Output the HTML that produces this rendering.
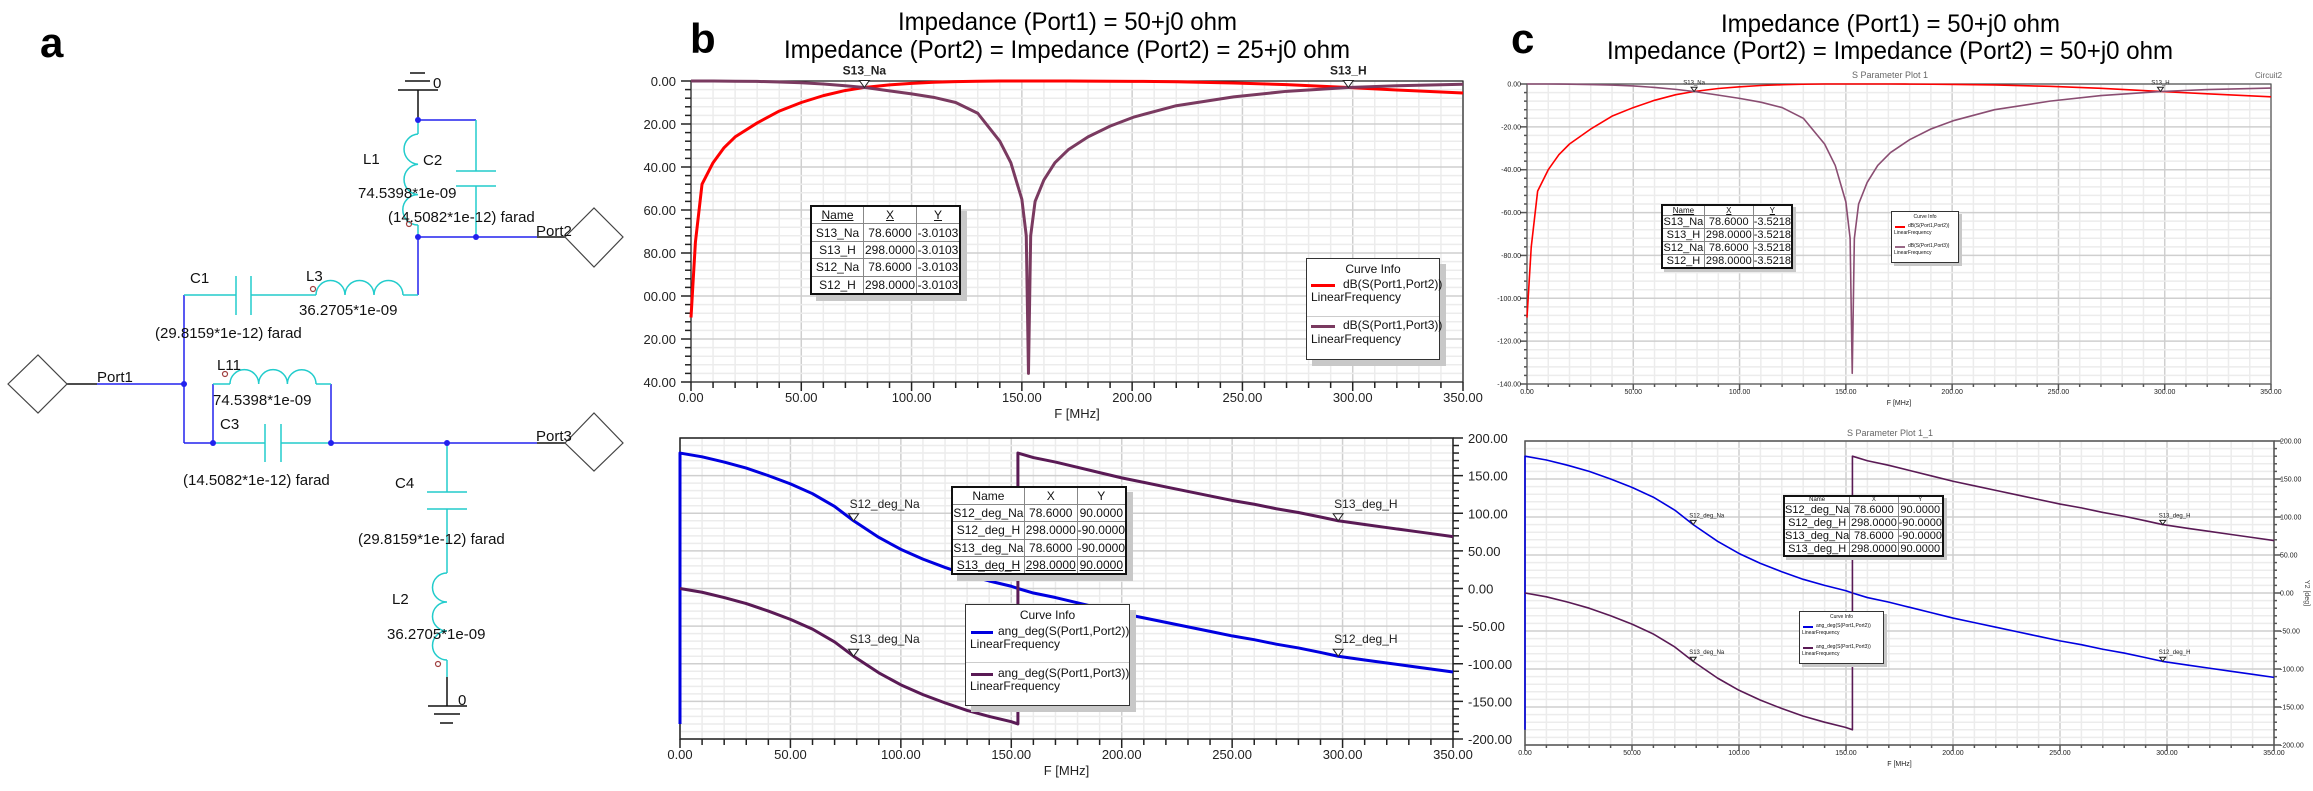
<!DOCTYPE html>
<html><head><meta charset="utf-8"><title>S-parameter figure</title>
<style>
html,body{margin:0;padding:0;background:#fff;}
#wrap{position:relative;width:2313px;height:791px;overflow:hidden;background:#fff;font-family:"Liberation Sans",Arial,sans-serif;}
svg text{font-family:"Liberation Sans",Arial,sans-serif;}
.tbl{position:absolute;background:#fff;border:2px solid #111;box-shadow:6px 6px 0 #c8c8c8;border-collapse:collapse;font-family:"Liberation Sans",Arial,sans-serif;color:#111;}
.tbl td{border:1px solid #888;text-align:center;padding:0;white-space:nowrap;}
.ci{position:absolute;background:#fff;border:1.5px solid #333;box-shadow:6px 6px 0 #c8c8c8;font-family:"Liberation Sans",Arial,sans-serif;color:#111;}
</style></head><body>
<div id="wrap">
<svg id="main" width="2313" height="791" viewBox="0 0 2313 791" xmlns="http://www.w3.org/2000/svg">
<defs><clipPath id="bclip"><rect x="643" y="0" width="900" height="791"/></clipPath></defs>
<!-- panel letters -->
<text x="40" y="57" font-size="42" font-weight="bold">a</text>
<text x="690" y="53" font-size="42" font-weight="bold">b</text>
<text x="1511" y="53" font-size="42" font-weight="bold">c</text>
<!-- titles -->
<text x="898" y="30" font-size="25" textLength="339" lengthAdjust="spacingAndGlyphs">Impedance (Port1) = 50+j0 ohm</text>
<text x="784" y="58" font-size="25" textLength="566" lengthAdjust="spacingAndGlyphs">Impedance (Port2) = Impedance (Port2) = 25+j0 ohm</text>
<text x="1721" y="32" font-size="25" textLength="339" lengthAdjust="spacingAndGlyphs">Impedance (Port1) = 50+j0 ohm</text>
<text x="1607" y="59" font-size="25" textLength="566" lengthAdjust="spacingAndGlyphs">Impedance (Port2) = Impedance (Port2) = 50+j0 ohm</text>
<text x="1890" y="78" font-size="9" fill="#666" text-anchor="middle">S Parameter Plot 1</text>
<text x="2255" y="78" font-size="8" fill="#666">Circuit2</text>
<text x="1890" y="436" font-size="9" fill="#666" text-anchor="middle">S Parameter Plot 1_1</text>

<!-- circuit schematic -->
<g id="circuit" fill="none" stroke-width="1.5">
  <!-- top ground -->
  <g stroke="#111">
    <line x1="418" y1="90" x2="418" y2="120"/>
    <line x1="398" y1="90" x2="438" y2="90"/>
    <line x1="405" y1="81" x2="430" y2="81"/>
    <line x1="410" y1="73" x2="425" y2="73"/>
  </g>
  <g stroke="#2222ee">
    <line x1="418" y1="120" x2="476" y2="120"/>
    <line x1="418" y1="237" x2="537" y2="237"/>
    <line x1="418" y1="237" x2="418" y2="295"/>
    <line x1="184" y1="295" x2="184" y2="443"/>
    <line x1="97" y1="384" x2="184" y2="384"/>
    <line x1="213" y1="384" x2="213" y2="443"/>
    <line x1="331" y1="384" x2="331" y2="443"/>
    <line x1="184" y1="443" x2="213" y2="443"/>
    <line x1="331" y1="443" x2="537" y2="443"/>
  </g>
  <g stroke="#22cccc">
    <line x1="476" y1="120" x2="476" y2="171"/>
    <line x1="456" y1="171" x2="496" y2="171"/>
    <line x1="456" y1="186" x2="496" y2="186"/>
    <line x1="476" y1="186" x2="476" y2="237"/>
    <line x1="418" y1="120" x2="418" y2="134"/>
    <path d="M418 134 a15.2 15.2 0 0 0 0 30.3 a15.2 15.2 0 0 0 0 30.3 a15.2 15.2 0 0 0 0 30.4"/>
    <line x1="418" y1="225" x2="418" y2="237"/>
    <line x1="184" y1="295" x2="236" y2="295"/>
    <line x1="236" y1="276" x2="236" y2="315"/>
    <line x1="251" y1="276" x2="251" y2="315"/>
    <line x1="251" y1="295" x2="316" y2="295"/>
    <path d="M316 295 a14.5 14.5 0 0 1 29 0 a14.5 14.5 0 0 1 29 0 a14.5 14.5 0 0 1 29 0"/>
    <line x1="403" y1="295" x2="418" y2="295"/>
    <line x1="213" y1="384" x2="230" y2="384"/>
    <path d="M230 384 a14.3 14.3 0 0 1 28.7 0 a14.3 14.3 0 0 1 28.7 0 a14.3 14.3 0 0 1 28.6 0"/>
    <line x1="316" y1="384" x2="331" y2="384"/>
    <line x1="213" y1="443" x2="265" y2="443"/>
    <line x1="265" y1="424" x2="265" y2="462"/>
    <line x1="281" y1="424" x2="281" y2="462"/>
    <line x1="281" y1="443" x2="331" y2="443"/>
    <line x1="447" y1="443" x2="447" y2="492"/>
    <line x1="427" y1="492" x2="467" y2="492"/>
    <line x1="427" y1="509" x2="467" y2="509"/>
    <line x1="447" y1="509" x2="447" y2="573"/>
    <path d="M447 573 a14.5 14.5 0 0 0 0 29 a14.5 14.5 0 0 0 0 29 a14.5 14.5 0 0 0 0 29"/>
    <line x1="447" y1="660" x2="447" y2="677"/>
  </g>
  <g stroke="#111">
    <line x1="67" y1="384" x2="97" y2="384"/>
    <line x1="537" y1="237" x2="565" y2="237"/>
    <line x1="537" y1="443" x2="565" y2="443"/>
    <line x1="447" y1="677" x2="447" y2="706"/>
    <line x1="428" y1="706" x2="467" y2="706"/>
    <line x1="434" y1="714" x2="460" y2="714"/>
    <line x1="440" y1="723" x2="453" y2="723"/>
  </g>
  <g stroke="#444" stroke-width="1.2">
    <polygon points="8,384 38,355 67,384 38,413"/>
    <polygon points="565,237 594,208 623,237 594,267"/>
    <polygon points="565,443 594,413 623,443 594,471"/>
  </g>
  <g fill="#2222ee" stroke="none">
    <circle cx="418" cy="120" r="3"/><circle cx="418" cy="237" r="3"/><circle cx="476" cy="237" r="3"/>
    <circle cx="184" cy="384" r="3"/><circle cx="213" cy="443" r="3"/><circle cx="331" cy="443" r="3"/><circle cx="447" cy="443" r="3"/>
  </g>
  <g stroke="#a04040" stroke-width="1.2">
    <circle cx="409" cy="224" r="2.5"/><circle cx="313" cy="289" r="2.5"/><circle cx="225" cy="374" r="2.5"/><circle cx="438" cy="664" r="2.5"/>
  </g>
  <g fill="#111" stroke="none" font-size="15">
    <text x="433" y="88">0</text>
    <text x="458" y="705">0</text>
    <text x="363" y="164">L1</text>
    <text x="423" y="165">C2</text>
    <text x="358" y="198">74.5398*1e-09</text>
    <text x="388" y="222">(14.5082*1e-12) farad</text>
    <text x="536" y="236">Port2</text>
    <text x="190" y="283">C1</text>
    <text x="306" y="281">L3</text>
    <text x="299" y="315">36.2705*1e-09</text>
    <text x="155" y="338">(29.8159*1e-12) farad</text>
    <text x="97" y="382">Port1</text>
    <text x="217" y="370">L11</text>
    <text x="213" y="405">74.5398*1e-09</text>
    <text x="220" y="429">C3</text>
    <text x="183" y="485">(14.5082*1e-12) farad</text>
    <text x="536" y="441">Port3</text>
    <text x="395" y="488">C4</text>
    <text x="358" y="544">(29.8159*1e-12) farad</text>
    <text x="392" y="604">L2</text>
    <text x="387" y="639">36.2705*1e-09</text>
  </g>
</g>
<g id="charts"></g>
</svg>

<!-- b top marker table -->
<table class="tbl" style="left:810px;top:205px;width:151px;height:90px;font-size:12px;">
<tr><td style="width:51px"><u>Name</u></td><td style="width:52px"><u>X</u></td><td><u>Y</u></td></tr>
<tr><td>S13_Na</td><td>78.6000</td><td>-3.0103</td></tr>
<tr><td>S13_H</td><td>298.0000</td><td>-3.0103</td></tr>
<tr><td>S12_Na</td><td>78.6000</td><td>-3.0103</td></tr>
<tr><td>S12_H</td><td>298.0000</td><td>-3.0103</td></tr>
</table>
<div class="ci" style="left:1306px;top:258px;width:132px;height:100px;font-size:12px;">
 <div style="text-align:center;margin-top:3px;">Curve Info</div>
 <div style="position:absolute;left:4px;top:25px;width:24px;height:3px;background:#f00"></div>
 <div style="position:absolute;left:36px;top:18px;">dB(S(Port1,Port2))</div>
 <div style="position:absolute;left:4px;top:31px;">LinearFrequency</div>
 <div style="position:absolute;left:0;top:57px;width:132px;height:1px;background:#ccc"></div>
 <div style="position:absolute;left:4px;top:66px;width:24px;height:3px;background:#7a3a60"></div>
 <div style="position:absolute;left:36px;top:59px;">dB(S(Port1,Port3))</div>
 <div style="position:absolute;left:4px;top:73px;">LinearFrequency</div>
</div>

<!-- b bottom marker table -->
<table class="tbl" style="left:951px;top:486px;width:176px;height:89px;font-size:12px;">
<tr><td style="width:71px">Name</td><td style="width:52px">X</td><td>Y</td></tr>
<tr><td>S12_deg_Na</td><td>78.6000</td><td>90.0000</td></tr>
<tr><td>S12_deg_H</td><td>298.0000</td><td>-90.0000</td></tr>
<tr><td>S13_deg_Na</td><td>78.6000</td><td>-90.0000</td></tr>
<tr><td><u>S13_deg_H</u></td><td><u>298.0000</u></td><td><u>90.0000</u></td></tr>
</table>
<div class="ci" style="left:965px;top:604px;width:163px;height:100px;font-size:12px;">
 <div style="text-align:center;margin-top:3px;">Curve Info</div>
 <div style="position:absolute;left:5px;top:26px;width:22px;height:3px;background:#0000e0"></div>
 <div style="position:absolute;left:32px;top:19px;">ang_deg(S(Port1,Port2))</div>
 <div style="position:absolute;left:4px;top:32px;">LinearFrequency</div>
 <div style="position:absolute;left:0;top:57px;width:163px;height:1px;background:#ccc"></div>
 <div style="position:absolute;left:5px;top:68px;width:22px;height:3px;background:#5a1a55"></div>
 <div style="position:absolute;left:32px;top:61px;">ang_deg(S(Port1,Port3))</div>
 <div style="position:absolute;left:4px;top:74px;">LinearFrequency</div>
</div>

<!-- c top marker table -->
<table class="tbl" style="left:1661px;top:204px;width:132px;height:63px;font-size:11px;box-shadow:3px 3px 0 #c8c8c8;">
<tr style="font-size:8px"><td style="width:41px"><u>Name</u></td><td style="width:48px"><u>X</u></td><td><u>Y</u></td></tr>
<tr><td>S13_Na</td><td>78.6000</td><td>-3.5218</td></tr>
<tr><td>S13_H</td><td>298.0000</td><td>-3.5218</td></tr>
<tr><td>S12_Na</td><td>78.6000</td><td>-3.5218</td></tr>
<tr><td>S12_H</td><td>298.0000</td><td>-3.5218</td></tr>
</table>
<div class="ci" style="left:1891px;top:211px;width:66px;height:50px;font-size:5px;box-shadow:3px 3px 0 #c8c8c8;">
 <div style="text-align:center;margin-top:2px;">Curve Info</div>
 <div style="position:absolute;left:3px;top:14px;width:10px;height:2px;background:#f00"></div>
 <div style="position:absolute;left:16px;top:11px;">dB(S(Port1,Port2))</div>
 <div style="position:absolute;left:2px;top:18px;">LinearFrequency</div>
 <div style="position:absolute;left:3px;top:34px;width:10px;height:2px;background:#9a6a88"></div>
 <div style="position:absolute;left:16px;top:31px;">dB(S(Port1,Port3))</div>
 <div style="position:absolute;left:2px;top:38px;">LinearFrequency</div>
</div>

<!-- c bottom marker table -->
<table class="tbl" style="left:1783px;top:495px;width:161px;height:62px;font-size:11px;box-shadow:3px 3px 0 #c8c8c8;">
<tr style="font-size:6px"><td style="width:63px">Name</td><td style="width:48px">X</td><td>Y</td></tr>
<tr><td>S12_deg_Na</td><td>78.6000</td><td>90.0000</td></tr>
<tr><td>S12_deg_H</td><td>298.0000</td><td>-90.0000</td></tr>
<tr><td>S13_deg_Na</td><td>78.6000</td><td>-90.0000</td></tr>
<tr><td>S13_deg_H</td><td>298.0000</td><td>90.0000</td></tr>
</table>
<div class="ci" style="left:1799px;top:611px;width:83px;height:51px;font-size:5px;box-shadow:3px 3px 0 #c8c8c8;">
 <div style="text-align:center;margin-top:2px;">Curve Info</div>
 <div style="position:absolute;left:3px;top:14px;width:10px;height:2px;background:#0000e0"></div>
 <div style="position:absolute;left:16px;top:11px;">ang_deg(S(Port1,Port2))</div>
 <div style="position:absolute;left:2px;top:18px;">LinearFrequency</div>
 <div style="position:absolute;left:3px;top:35px;width:10px;height:2px;background:#5a1a55"></div>
 <div style="position:absolute;left:16px;top:32px;">ang_deg(S(Port1,Port3))</div>
 <div style="position:absolute;left:2px;top:39px;">LinearFrequency</div>
</div>
</div>

<script>
// ---------- data ----------
const dbFreq = [0,2,5,10,15,20,30,40,50,60,70,78.6,90,100,110,120,130,140,145,150,152,153,154,156,160,165,171,180,190,201,220,246,270,298,320,350];
const bS12dB = [-110,-75,-48,-38,-31,-26,-19.5,-14,-10,-6.8,-4.4,-3,-1.8,-1.1,-0.6,-0.3,-0.1,0,0,0,0,0,0,0,0,0,0,-0.05,-0.1,-0.15,-0.35,-0.9,-1.7,-3,-4.2,-5.6];
const bS13dB = [0,0,0,0,-0.05,-0.1,-0.2,-0.45,-0.8,-1.4,-2.2,-3,-4.6,-6,-7.6,-10,-15,-28,-38,-55,-72,-136,-72,-56,-46,-38,-32,-26,-21,-16.7,-11.5,-7.4,-4.8,-3,-2.2,-1.5];
const cS12dB = [-109,-76,-50,-40,-33,-28,-21,-15,-11,-7.6,-5,-3.5,-2.1,-1.3,-0.7,-0.35,-0.12,0,0,0,0,0,0,0,0,0,0,-0.06,-0.12,-0.2,-0.45,-1.1,-2,-3.5,-4.6,-6];
const cS13dB = [0,0,0,0,-0.05,-0.1,-0.25,-0.5,-0.9,-1.6,-2.5,-3.5,-5.2,-6.7,-8.5,-11,-16,-28,-38,-55,-72,-135,-72,-56,-46,-38,-32,-26,-21,-17,-12,-8,-5.4,-3.5,-2.6,-1.9];

const deg12Freq = [0,0,10,20,30,40,50,60,70,78.6,90,100,110,120,130,140,150,153,160,170,180,190,200,210,220,230,240,250,260,270,280,290,298,310,320,330,340,350];
const bS12deg = [-180,180,175,168,160,150,139,126,109,90,68,52,39,28,18,10,3,0,-6,-12,-19,-26,-33,-39,-45,-51,-57,-63,-68,-74,-79,-85,-90,-95,-99,-103,-107,-111];
const deg13Freq = [0,10,20,30,40,50,60,70,78.6,90,100,110,120,130,140,150,153,153,160,170,180,190,200,210,220,230,240,250,260,270,280,290,298,310,320,330,340,350];
const bS13deg = [0,-5,-12,-20,-30,-41,-54,-71,-90,-112,-128,-141,-152,-162,-170,-177,-180,180,174,168,161,154,147,141,135,129,123,117,112,106,101,95,90,85,81,77,73,69];
const cS12deg = bS12deg.slice();
const cS13deg = bS13deg.slice();

const fTicks = [0,50,100,150,200,250,300,350];
const dbTicks = [0,-20,-40,-60,-80,-100,-120,-140];
const degTicks = [200,150,100,50,0,-50,-100,-150,-200];

const markerFreqs = [78.6,298];

// ---------- helpers ----------
const NS = 'http://www.w3.org/2000/svg';
const root = document.getElementById('charts');
function mk(tag, attrs, parent){
  const e = document.createElementNS(NS, tag);
  for (const k in attrs) e.setAttribute(k, attrs[k]);
  (parent||root).appendChild(e);
  return e;
}
function lin(d0,d1,p0,p1){ return v => p0 + (v-d0)*(p1-p0)/(d1-d0); }
function interp(xs, ys, x){
  for (let i=0;i<xs.length-1;i++){ if (x>=xs[i] && x<=xs[i+1] && xs[i+1]>xs[i]) return ys[i]+(ys[i+1]-ys[i])*(x-xs[i])/(xs[i+1]-xs[i]); }
  return ys[ys.length-1];
}

function frame(box, yMin, yMax, yMajor, yMinor, yT, small, rightLabels, clip, fullBorder, prefix){
  const sx = lin(0,350,box.l,box.r), sy = lin(yMin,yMax,box.b,box.t);
  const g = mk('g', {});
  
  
  for (let f=0; f<=350; f+=10){
    const ln = mk('line',{x1:sx(f),x2:sx(f),y1:box.t,y2:box.b,stroke:(f%50===0)?'#cfcfcf':'#ececec','stroke-width':1.5},g);
    
    
  }
  for (let v=yMin; v<=yMax+1e-9; v+=yMinor){
    const major = Math.abs((v-yMin)/yMajor - Math.round((v-yMin)/yMajor))<1e-6;
    const ln = mk('line',{x1:box.l,x2:box.r,y1:sy(v),y2:sy(v),stroke:major?'#cfcfcf':'#ececec','stroke-width':1.5},g);
    
    
  }
  const axc = small ? '#555' : '#222';
  const border = mk('rect',{x:box.l,y:box.t,width:box.r-box.l,height:box.b-box.t,fill:'none',stroke:axc,'stroke-width':fullBorder?1.5:1.2},g);
  
  
  const fs = small ? 7 : 13;
  const tl = small ? 3 : 6;
  // x ticks
  for (let f=0; f<=350; f+=10){
    const t = mk('line',{x1:sx(f),x2:sx(f),y1:box.b,y2:box.b+((f%50===0)?tl+3:tl),stroke:axc,'stroke-width':1.5},g);
    
    
  }
  fTicks.forEach(f=>{
    const t = mk('text',{x:sx(f),y:box.b+(small?10:20),'font-size':fs,'text-anchor':'middle',fill:'#222'},g);
    t.textContent = f.toFixed(2);
    
    
  });
  const xt = mk('text',{x:(box.l+box.r)/2,y:box.b+(small?21:36),'font-size':small?7:13,'text-anchor':'middle',fill:'#222'},g);
  xt.textContent = 'F [MHz]';
  
  
  // y ticks
  const ax = rightLabels ? box.r : box.l;
  const dir = rightLabels ? 1 : -1;
  for (let v=yMin; v<=yMax+1e-9; v+=yMinor){
    const major = Math.abs((v-yMin)/yMajor - Math.round((v-yMin)/yMajor))<1e-6;
    const t = mk('line',{x1:ax,x2:ax+dir*(major?tl+4:tl),y1:sy(v),y2:sy(v),stroke:axc,'stroke-width':1.5},g);
    
    
  }
  const lg = mk('g', clip ? {'clip-path':'url(#bclip)'} : {}, g);
  yT.forEach(v=>{
    const t = mk('text',{x:ax+dir*(small?6:15),y:sy(v)+(small?2.5:5),'font-size':fs,'text-anchor':rightLabels?'start':'end',fill:'#222'},lg);
    t.textContent = v.toFixed(2);
    
    
  });
  return {sx, sy};
}

function series(xs, ys, sc, color, w, name){
  let d='';
  for (let i=0;i<xs.length;i++) d += (i?'L':'M') + sc.sx(xs[i]).toFixed(2) + ' ' + sc.sy(ys[i]).toFixed(2);
  const p = mk('path',{d:d,fill:'none',stroke:color,'stroke-width':w,'stroke-linejoin':'round'});
  
  
}

function marker(sc, f, v, label, small, above, name){
  const x = sc.sx(f), y = sc.sy(v);
  const s = small ? 3 : 5;
  const yy = above ? y : y;
  const tri = mk('path',{d:`M${x-s} ${yy-s*1.4} L${x+s} ${yy-s*1.4} L${x} ${yy} Z`,fill:'#fff',stroke:'#222','stroke-width':1});
  
  
  const t = mk('text',{x:above?x:x-4,y:yy-s*1.4-(small?3:6),'font-size':small?6:12,'text-anchor':above?'middle':'start',fill:'#222','font-weight':above&&!small?'bold':'normal'});
  t.textContent = label;
  
  
}

// ---------- panel b ----------
const bTop = frame({l:691,r:1463,t:81,b:382}, -140, 0, 20, 4, dbTicks, false, false, true, false, 'b-top');
series(dbFreq, bS12dB, bTop, '#ff0000', 3, 'b-s12-db-curve');
series(dbFreq, bS13dB, bTop, '#7a3a60', 3, 'b-s13-db-curve');
marker(bTop, markerFreqs[0], interp(dbFreq,bS13dB,markerFreqs[0]), 'S13_Na', false, true, 'b-s13-na');
marker(bTop, markerFreqs[1], interp(dbFreq,bS13dB,markerFreqs[1]), 'S13_H', false, true, 'b-s13-h');

const bBot = frame({l:680,r:1453,t:438,b:739}, -200, 200, 50, 10, degTicks, false, true, false, true, 'b-bottom');
series(deg12Freq, bS12deg, bBot, '#0000e0', 3, 'b-s12-phase-curve');
series(deg13Freq, bS13deg, bBot, '#5a1a55', 3, 'b-s13-phase-curve');
marker(bBot, markerFreqs[0], interp(deg12Freq.slice(1),bS12deg.slice(1),markerFreqs[0]), 'S12_deg_Na', false, false, 'b-s12-deg-na');
marker(bBot, markerFreqs[1], interp(deg12Freq.slice(1),bS12deg.slice(1),markerFreqs[1]), 'S12_deg_H', false, false, 'b-s12-deg-h');
marker(bBot, markerFreqs[0], interp(deg13Freq,bS13deg,markerFreqs[0]), 'S13_deg_Na', false, false, 'b-s13-deg-na');
marker(bBot, markerFreqs[1], interp(deg13Freq.slice(17),bS13deg.slice(17),markerFreqs[1]), 'S13_deg_H', false, false, 'b-s13-deg-h');

// ---------- panel c ----------
const cTop = frame({l:1527,r:2271,t:84,b:384}, -140, 0, 20, 4, dbTicks, true, false, false, false, 'c-top');
series(dbFreq, cS12dB, cTop, '#ff0000', 1.6, 'c-s12-db-curve');
series(dbFreq, cS13dB, cTop, '#8a4d72', 1.6, 'c-s13-db-curve');
marker(cTop, markerFreqs[0], interp(dbFreq,cS13dB,markerFreqs[0]), 'S13_Na', true, true, 'c-s13-na');
marker(cTop, markerFreqs[1], interp(dbFreq,cS13dB,markerFreqs[1]), 'S13_H', true, true, 'c-s13-h');

const cBot = frame({l:1525,r:2274,t:441,b:745}, -200, 200, 50, 10, degTicks, true, true, false, true, 'c-bottom');
series(deg12Freq, cS12deg, cBot, '#0000e0', 1.6, 'c-s12-phase-curve');
series(deg13Freq, cS13deg, cBot, '#5a1a55', 1.6, 'c-s13-phase-curve');
marker(cBot, markerFreqs[0], interp(deg12Freq.slice(1),cS12deg.slice(1),markerFreqs[0]), 'S12_deg_Na', true, false, 'c-s12-deg-na');
marker(cBot, markerFreqs[1], interp(deg12Freq.slice(1),cS12deg.slice(1),markerFreqs[1]), 'S12_deg_H', true, false, 'c-s12-deg-h');
marker(cBot, markerFreqs[0], interp(deg13Freq,cS13deg,markerFreqs[0]), 'S13_deg_Na', true, false, 'c-s13-deg-na');
marker(cBot, markerFreqs[1], interp(deg13Freq.slice(17),cS13deg.slice(17),markerFreqs[1]), 'S13_deg_H', true, false, 'c-s13-deg-h');

const y2 = mk('text',{x:2305,y:593,'font-size':7,fill:'#444',transform:'rotate(90 2305 593)','text-anchor':'middle'});
y2.textContent = 'Y2 [deg]';


</script>
</body></html>
